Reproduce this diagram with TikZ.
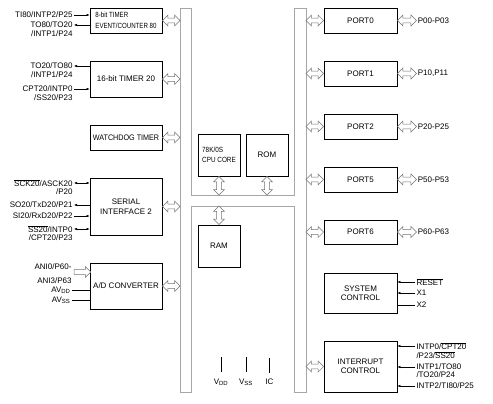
\documentclass[tikz,border=0pt]{standalone}
\usepackage{fontspec}
\setmainfont{Liberation Sans}
\usetikzlibrary{arrows.meta, positioning, calc, shapes.arrows}

\newcommand{\narrow}[2][0.85]{\scalebox{#1}[1]{#2}}

\tikzset{
  blk/.style={draw, line width=0.8pt, minimum width=72pt, inner sep=1pt, align=center},
  lab/.style={inner sep=0pt, outer sep=1.5pt},
  sig/.style={line width=0.4pt, -{Latex[length=3pt, width=2.4pt]}},
  sigb/.style={line width=0.4pt, {Latex[length=3pt, width=2.4pt]}-{Latex[length=3pt, width=2.4pt]}},
  dblarr/.style={double arrow, draw=gray!90!black, fill=white, line width=0.5pt,
    inner sep=2.2pt, minimum width=10.5pt, double arrow head extend=3pt},
  sglarr/.style={single arrow, draw=gray!90!black, fill=white, line width=0.5pt,
    inner sep=2.2pt, minimum width=10.5pt, single arrow head extend=3pt},
  blink/.style={to path={
    let \p1=(\tikztostart), \p2=(\tikztotarget),
        \n1={veclen(\x2-\x1,\y2-\y1)}, \n2={atan2(\y2-\y1,\x2-\x1)} in
    node[#1, minimum height=\n1, rotate=\n2] at ($(\p1)!0.5!(\p2)$) {}}},
  blink/.default=dblarr,
  bus/.style={draw=gray!70, line width=0.8pt},
}

\begin{document}
\begin{tikzpicture}[x=1pt, y=-1pt, font=\fontsize{8}{9.5}\selectfont]
  \useasboundingbox (0,0) rectangle (493,404);

  % internal bus
  \draw[bus] (180,8) -- (180,392) -- (191,392) -- (191,206) -- (294,206) -- (294,392)
    -- (306,392) -- (306,8) -- (294,8) -- (294,195) -- (191,195) -- (191,8) -- cycle;
  \coordinate (bl) at (180,0);
  \coordinate (br) at (306,0);
  \coordinate (bt) at (0,195);
  \coordinate (bb) at (0,206);

  % left blocks
  \node[blk, minimum height=25pt, align=left, font=\fontsize{7.5}{10.5}\selectfont] (t80) at (126,20.5) {\narrow[0.82]{8-bit TIMER}\\\narrow[0.82]{EVENT/COUNTER 80}};
  \node[blk, minimum height=36pt] (t20) at (126,79) {16-bit TIMER 20};
  \node[blk, minimum height=25pt] (wdt) at (126,137.5) {\narrow[0.9]{WATCHDOG TIMER}};
  \node[blk, minimum height=57pt, font=\fontsize{8}{10.5}\selectfont] (sio) at (126,206.5) {SERIAL\\INTERFACE 2};
  \node[blk, minimum height=46pt] (adc) at (126,286) {A/D CONVERTER};

  % core
  \node[blk, minimum width=42pt, minimum height=42pt, align=left, font=\fontsize{7.5}{10}\selectfont] (cpu) at (219,155) {\narrow{78K/0S}\\\narrow{CPU CORE}};
  \node[blk, minimum width=42pt, minimum height=42pt] (rom) at (267,155) {ROM};
  \node[blk, minimum width=42pt, minimum height=42pt] (ram) at (219,246) {RAM};

  % right blocks
  \node[blk, minimum width=73pt, minimum height=25pt] (p0) at (360.5,20.5) {PORT0};
  \node[blk, minimum width=73pt, minimum height=25pt] (p1) at (360.5,73.5) {PORT1};
  \node[blk, minimum width=73pt, minimum height=25pt] (p2) at (360.5,126.5) {PORT2};
  \node[blk, minimum width=73pt, minimum height=25pt] (p5) at (360.5,179.5) {PORT5};
  \node[blk, minimum width=73pt, minimum height=24pt] (p6) at (360.5,232) {PORT6};
  \node[blk, minimum width=73pt, minimum height=40pt] (sys) at (360.5,293) {SYSTEM\\CONTROL};
  \node[blk, minimum width=73pt, minimum height=51pt] (intc) at (360.5,366.5) {INTERRUPT\\CONTROL};

  % bus links
  \foreach \m in {t80,t20,wdt,sio,adc}
    \path (\m.east) to[blink] (\m.east -| bl);
  \foreach \m in {p0,p1,p2,p5,p6,intc}
    \path (\m.west) to[blink] (\m.west -| br);
  \path (cpu.south) to[blink] (cpu.south |- bt);
  \path (rom.south) to[blink] (rom.south |- bt);
  \path (ram.north) to[blink] (ram.north |- bb);

  % port pins
  \foreach \m/\t in {0/P00-P03, 1/{P10,P11}, 2/P20-P25, 5/P50-P53, 6/P60-P63} {
    \node[lab, anchor=west] (q\m) at ([xshift=19pt]p\m.east) {\t};
    \path (p\m.east) to[blink] (q\m.west);
  }

  % timer pins
  \node[lab, anchor=east] (ti80) at (74,15) {TI80/INTP2/P25};
  \node[lab, anchor=east] (to80) at (74,25) {TO80/TO20};
  \node[lab, anchor=east] (to80b) at (74,34) {/INTP1/P24};
  \draw[sig] (ti80.east) -- (ti80 -| t80.west);
  \draw[sig] (to80 -| t80.west) -- (to80.east);

  \node[lab, anchor=east] (to20) at (74,66) {TO20/TO80};
  \node[lab, anchor=east] (to20b) at (74,75) {/INTP1/P24};
  \node[lab, anchor=east] (cpt) at (74,89) {CPT20/INTP0};
  \node[lab, anchor=east] (cptb) at (74,98) {/SS20/P23};
  \draw[sig] (to20 -| t20.west) -- (to20.east);
  \draw[sig] (cpt.east) -- (cpt -| t20.west);

  % serial pins
  \node[lab, anchor=east] (sck) at (74,183) {$\overline{\mbox{SCK20}}$/ASCK20};
  \node[lab, anchor=east] (sckb) at (74,192) {/P20};
  \node[lab, anchor=east] (so) at (74,205) {SO20/TxD20/P21};
  \node[lab, anchor=east] (si) at (74,216) {SI20/RxD20/P22};
  \node[lab, anchor=east] (ss) at (74,229) {$\overline{\mbox{SS20}}$/INTP0};
  \node[lab, anchor=east] (ssb) at (74,238) {/CPT20/P23};
  \draw[sigb] (sck.east) -- (sck -| sio.west);
  \draw[sig] (so -| sio.west) -- (so.east);
  \draw[sig] (si.east) -- (si -| sio.west);
  \draw[sigb] (ss.east) -- (ss -| sio.west);

  % a/d pins
  \node[lab, anchor=east] (ani) at (73,267) {ANI0/P60-};
  \node[lab, anchor=east] (anib) at (73,281) {ANI3/P63};
  \coordinate (anin) at (73,272);
  \path (anin) to[blink=sglarr] (anin -| adc.west);
  \node[lab, anchor=east] (avdd) at (72,290) {AV\textsubscript{DD}};
  \node[lab, anchor=east] (avss) at (72,300) {AV\textsubscript{SS}};
  \draw[line width=0.4pt] (avdd.east) -- (avdd -| adc.west);
  \draw[line width=0.4pt] (avss.east) -- (avss -| adc.west);

  % power pins
  \node[lab] (vdd) at (221,382) {V\textsubscript{DD}};
  \node[lab] (vss) at (246,382) {V\textsubscript{SS}};
  \node[lab] (ic) at (269.5,382) {IC};
  \foreach \m in {vdd,vss,ic}
    \draw[line width=0.4pt] ([yshift=5pt]\m.north) -- ++(0,-15);

  % system control pins
  \node[lab, anchor=west] (rst) at (415,282) {$\overline{\mbox{RESET}}$};
  \node[lab, anchor=west] (xa) at (415,293) {X1};
  \node[lab, anchor=west] (xb) at (415,305) {X2};
  \draw[sig] (rst.west) -- (rst -| sys.east);
  \draw[sig] (xa.west) -- (xa -| sys.east);
  \draw[line width=0.4pt] (xb.west) -- (xb -| sys.east);

  % interrupt pins
  \node[lab, anchor=west] (ia) at (415,346) {INTP0/$\overline{\mbox{CPT20}}$};
  \node[lab, anchor=west] (iab) at (415,355) {/P23/$\overline{\mbox{SS20}}$};
  \node[lab, anchor=west] (ib) at (415,367) {INTP1/TO80};
  \node[lab, anchor=west] (ibb) at (415,375) {/TO20/P24};
  \node[lab, anchor=west] (ic2) at (415,386) {INTP2/TI80/P25};
  \foreach \m in {ia,ib,ic2}
    \draw[sig] (\m.west) -- (\m -| intc.east);
\end{tikzpicture}
\end{document}
